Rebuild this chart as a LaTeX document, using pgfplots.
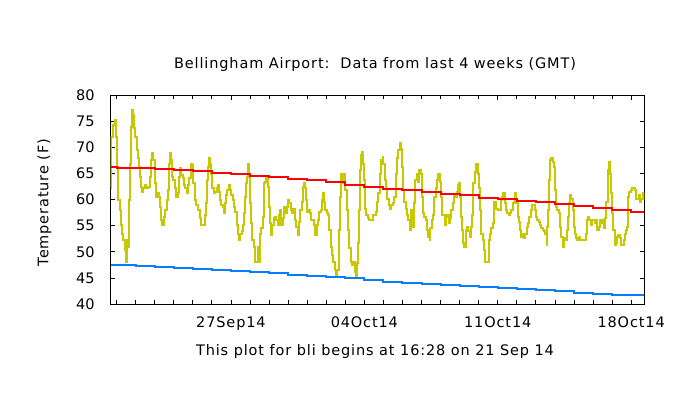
\documentclass[border=0pt]{standalone}
\usepackage{fontspec}
\setmainfont{DejaVu Sans}
\newfontfamily\gfont[LetterSpace=6]{DejaVu Sans}
\usepackage{pgfplots}
\pgfplotsset{compat=1.18}
\definecolor{obs}{RGB}{200,200,0}
\definecolor{nhi}{RGB}{255,0,0}
\definecolor{nlo}{RGB}{0,128,255}
\begin{document}
\begin{tikzpicture}
\path[use as bounding box] (0,0) rectangle (700bp,-400bp);
\begin{axis}[
  at={(110.7bp,-304bp)}, anchor=south west,
  scale only axis, width=533.6bp, height=208.7bp,
  xmin=0, xmax=28, ymin=40, ymax=80,
  ytick={40,45,...,80},
  xtick={6.31,13.31,20.31,27.31},
  xticklabels={27Sep14,04Oct14,11Oct14,18Oct14},
  minor xtick={0.31,1.31,...,27.31},
  major tick length=4.5bp, minor tick length=4bp,
  tick align=inside,
  every tick/.style={black, line width=0.8bp},
  axis line style={black, line width=0.8bp},
  /pgf/number format/assume math mode=true,
  yticklabel style={font=\fontsize{14.5bp}{17bp}\selectfont, xshift=-12.6bp},
  xticklabel style={font=\gfont\fontsize{14.5bp}{17bp}\selectfont, yshift=-9.5bp},
  clip=true,
]
\addplot[const plot, color=obs, line width=2bp] coordinates {
(0,62.2)(0.03,72)(0.12,74.3)(0.21,75.2)(0.26,72)(0.33,66.3)(0.38,59.9)(0.47,58)(0.52,55.1)(0.59,53.5)(0.65,52.3)(0.73,50.3)(0.78,48.1)(0.85,52.3)(0.91,51)(0.96,59.9)(1.0,66.9)(1.05,69.5)(1.08,74)(1.12,77.2)(1.17,76.2)(1.22,73.7)(1.29,72)(1.36,69.5)(1.43,67.9)(1.48,66.3)(1.54,64.4)(1.61,62.5)(1.66,61.5)(1.71,62.2)(1.78,62.8)(1.87,62.2)(1.96,62.5)(2.04,64.4)(2.13,67.6)(2.18,68.9)(2.24,67.6)(2.31,63.1)(2.36,60.6)(2.43,61.2)(2.52,60.6)(2.59,58.6)(2.66,56.1)(2.71,55.1)(2.78,56.7)(2.87,58)(2.94,59.9)(3.01,61.8)(3.06,66.9)(3.11,68.9)(3.18,67.6)(3.23,64.4)(3.28,63.8)(3.35,62.2)(3.44,60.6)(3.53,61.2)(3.58,64.4)(3.63,66)(3.70,64.7)(3.77,64.1)(3.84,62.8)(3.91,62.2)(3.98,61.2)(4.05,62.8)(4.12,64.1)(4.19,66.9)(4.26,66.6)(4.33,63.1)(4.40,59.9)(4.49,59)(4.58,58)(4.66,56.4)(4.75,55.1)(4.84,55.1)
(4.93,57)(4.98,59.3)(5.03,63.8)(5.10,66.3)(5.16,67.9)(5.23,66.9)(5.28,65)(5.33,62.2)(5.40,61.2)(5.49,61.5)(5.56,62.2)(5.63,62.8)(5.68,61.5)(5.73,59.9)(5.80,59)(5.87,58.6)(5.92,57.4)(5.98,59.3)(6.05,60.9)(6.12,61.8)(6.19,62.8)(6.26,61.8)(6.33,60.9)(6.40,59.9)(6.47,58.6)(6.54,57.7)(6.61,55.1)(6.68,53.5)(6.73,52.3)(6.80,53.5)(6.87,53.9)(6.94,55.1)(6.99,57.4)(7.04,60.6)(7.11,63.1)(7.17,64.4)(7.22,66.9)(7.27,64.4)(7.32,59.3)(7.38,55.5)(7.43,52.3)(7.50,51)(7.55,48.1)(7.64,48.1)(7.71,51)(7.76,48.1)(7.83,53.5)(7.90,54.5)(7.97,56.7)(8.04,63.1)(8.11,63.4)(8.16,64.1)(8.23,62.5)(8.29,58.6)(8.36,55.5)(8.43,53.2)(8.48,55.1)(8.55,56.4)(8.62,56.7)(8.69,56.1)(8.76,55.1)(8.83,57)(8.88,58)(8.95,55.1)(9.02,56.4)(9.09,58.6)(9.16,57.4)(9.23,58.6)(9.30,59.9)(9.37,59.3)(9.44,58)(9.51,57.4)(9.56,58.3)
(9.65,56.1)(9.74,54.8)(9.81,53.2)(9.88,55.8)(9.95,58)(10.02,59.6)(10.09,62.5)(10.14,63.1)(10.21,62.2)(10.26,59.9)(10.31,57.7)(10.38,58)(10.45,57.4)(10.52,56.1)(10.59,56.1)(10.66,55.1)(10.73,53.2)(10.80,55.1)(10.87,56.1)(10.94,57.7)(11.01,58)(11.08,59.9)(11.13,61.2)(11.20,59.6)(11.27,58)(11.34,57.4)(11.41,57)(11.48,54.2)(11.55,51)(11.62,49.4)(11.69,48.1)(11.76,46.5)(11.83,45.2)(11.90,46.5)(11.96,54.2)(12.01,60.6)(12.06,63.1)(12.11,65)(12.18,63.1)(12.25,65)(12.31,61.8)(12.38,58)(12.45,54.2)(12.52,50.7)(12.59,48.1)(12.66,47.5)(12.73,48.1)(12.80,46.2)(12.87,45.2)(12.92,47.8)(12.97,51.6)(13.02,58)(13.08,65.7)(13.13,68.5)(13.18,69.2)(13.23,66.9)(13.29,63.8)(13.34,58.3)(13.41,57)(13.49,56.4)(13.58,56.1)(13.67,56.1)(13.76,57)(13.84,57)(13.93,57.7)(13.98,59.6)(14.05,61.2)(14.12,65)(14.19,67.6)(14.28,68.2)
(14.30,66.9)(14.37,63.8)(14.44,62.2)(14.51,60.2)(14.58,59)(14.65,58.3)(14.72,59)(14.81,59.3)(14.89,60.6)(14.96,65)(15.03,67.9)(15.10,69.5)(15.17,70.8)(15.24,69.8)(15.30,66.3)(15.35,61.8)(15.40,59.6)(15.47,58.3)(15.54,57)(15.61,56.1)(15.68,54.2)(15.75,58)(15.82,54.8)(15.89,55.8)(15.94,59.3)(15.99,63.8)(16.06,65)(16.13,63.4)(16.20,65.7)(16.28,65)(16.33,60.6)(16.38,57.4)(16.45,56.7)(16.52,56.1)(16.59,54.2)(16.66,52.9)(16.73,52.3)(16.78,54.5)(16.85,56.1)(16.92,57)(16.99,60.6)(17.06,62.2)(17.13,63.8)(17.20,65)(17.27,63.4)(17.32,60.6)(17.38,57)(17.45,57)(17.52,55.1)(17.59,56.7)(17.66,57)(17.73,55.5)(17.80,56.4)(17.87,58)(17.94,59.3)(18.01,60.9)(18.08,60.6)(18.15,61.5)(18.22,62.8)(18.27,63.1)(18.32,60.6)(18.37,56.7)(18.43,54.2)(18.50,51.6)(18.55,51)(18.62,54.2)(18.69,54.8)(18.76,53.9)(18.83,52.9)(18.90,54.8)
(18.95,57)(19.02,63.1)(19.09,65.3)(19.16,66.9)(19.23,66.9)(19.28,65)(19.33,62.2)(19.39,58)(19.44,53.5)(19.51,52.3)(19.58,50.3)(19.65,48.1)(19.72,48.1)(19.79,48.1)(19.86,52.3)(19.91,53.5)(19.98,54.5)(20.05,55.5)(20.10,59.6)(20.17,59.6)(20.24,58.3)(20.31,58)(20.40,58)(20.47,59.9)(20.54,60.6)(20.61,61.2)(20.68,59.3)(20.75,58)(20.82,57.4)(20.89,57)(20.96,57.4)(21.03,58)(21.10,59.3)(21.17,59.6)(21.24,61.2)(21.29,59.3)(21.36,56.7)(21.41,55.8)(21.48,54.2)(21.54,52.9)(21.61,53.5)(21.68,52.6)(21.75,53.5)(21.82,54.8)(21.89,55.5)(21.96,56.7)(22.03,58)(22.10,59)(22.17,59)(22.24,58)(22.31,56.7)(22.38,56.1)(22.45,55.8)(22.52,55.1)(22.59,54.5)(22.66,54.2)(22.73,53.9)(22.80,53.5)(22.87,51.3)(22.92,54.8)(22.97,58)(23.02,63.8)(23.07,67.6)(23.13,67.9)(23.20,67.3)(23.27,66.3)(23.32,61.8)(23.37,58.6)(23.43,58)(23.50,57.4)(23.57,54.8)(23.64,52.9)(23.71,51)
(23.79,52.6)(23.86,52.3)(23.93,54.2)(24.00,56.7)(24.05,59.3)(24.11,60.9)(24.17,60.2)(24.25,58)(24.30,54.8)(24.35,53.5)(24.42,52.6)(24.49,52.3)(24.56,52.9)(24.63,52.3)(24.70,52.3)(24.79,52.3)(24.87,52.3)(24.95,53.5)(25.00,56.1)(25.05,56.7)(25.12,56.1)(25.19,55.1)(25.26,56.1)(25.33,56.1)(25.40,55.5)(25.47,56.1)(25.54,54.2)(25.61,54.8)(25.68,56.1)(25.75,55.5)(25.82,56.1)(25.89,54.5)(25.96,56.4)(26.01,59.6)(26.07,61.5)(26.12,65.7)(26.17,67.3)(26.22,65)(26.27,61.2)(26.33,57.4)(26.38,54.2)(26.45,51.3)(26.52,51.6)(26.57,52.9)(26.64,53.2)(26.71,52.6)(26.78,51.3)(26.85,51.3)(26.92,52.3)(26.97,53.5)(27.03,54.2)(27.10,54.8)(27.15,60.6)(27.22,61.5)(27.29,61.8)(27.36,62.2)(27.43,62.2)(27.50,61.8)(27.57,60.2)(27.64,60.2)(27.71,60.9)(27.78,59.6)(27.85,60.2)(27.92,61.2)(28,59.9)
};
\addplot[const plot, color=nhi, line width=2bp] coordinates {
(0,66.2)(0.31,66.1)(1.31,66.0)(2.31,65.8)(3.31,65.6)(4.31,65.4)(5.31,65.1)(6.31,64.9)(7.31,64.6)(8.31,64.3)(9.31,64.0)(10.31,63.7)(11.31,63.3)(12.31,62.9)(13.31,62.5)(14.31,62.1)(15.31,61.8)(16.31,61.5)(17.31,61.1)(18.31,60.8)(19.31,60.4)(20.31,60.1)(21.31,59.8)(22.31,59.5)(23.31,59.2)(24.31,58.8)(25.31,58.4)(26.31,58.1)(27.31,57.7)(28,57.7)
};
\addplot[const plot, color=nlo, line width=2bp] coordinates {
(0,47.5)(0.31,47.4)(1.31,47.3)(2.31,47.1)(3.31,46.9)(4.31,46.7)(5.31,46.5)(6.31,46.3)(7.31,46.1)(8.31,45.9)(9.31,45.6)(10.31,45.4)(11.31,45.1)(12.31,44.9)(13.31,44.6)(14.31,44.3)(15.31,44.1)(16.31,43.9)(17.31,43.7)(18.31,43.4)(19.31,43.2)(20.31,43.0)(21.31,42.8)(22.31,42.6)(23.31,42.4)(24.31,42.2)(25.31,42.0)(26.31,41.8)(27.31,41.7)(28,41.7)
};
\end{axis}
\begin{scope}[every node/.style={font=\gfont\fontsize{14.5bp}{17bp}\selectfont, inner sep=0pt}]
\node[anchor=base] at (375bp,-68.7bp) {Bellingham Airport:\ \ Data from last 4 weeks (GMT)};
\node[anchor=base] at (375bp,-355bp) {This plot for bli begins at 16:28 on 21 Sep 14};
\node[rotate=90, anchor=base] at (48.3bp,-202.5bp) {Temperature (F)};
\end{scope}
\end{tikzpicture}
\end{document}
